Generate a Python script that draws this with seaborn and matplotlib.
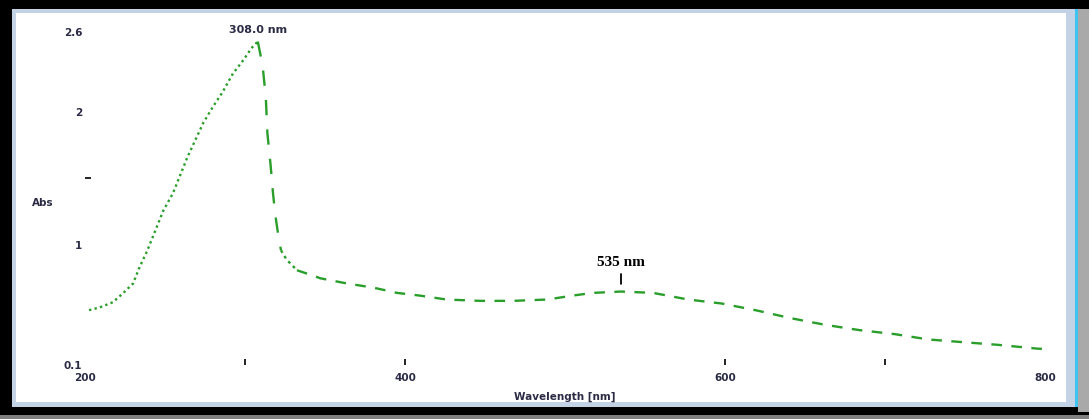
import numpy as np
import pandas as pd
import seaborn as sns
import matplotlib
matplotlib.use("Agg")
import matplotlib.pyplot as plt
from matplotlib.patches import Rectangle
from matplotlib.ticker import FixedLocator

# UV-Vis absorbance spectrum
wavelength = [202.5, 209, 217.5, 224, 230, 234, 239, 245, 249, 255, 259, 264, 269, 274,
              280, 286, 292.5, 299, 304, 308, 311, 313, 314, 316, 317.5, 319, 320.6,
              322.5, 326, 332.5, 342.5, 347, 364, 380, 395, 409, 426, 447, 467.5, 489,
              505, 517.5, 535, 555, 577, 598, 619, 641, 662.5, 684, 706, 727, 748, 770,
              796, 801]
absorbance = [0.51, 0.53, 0.57, 0.64, 0.71, 0.83, 0.96, 1.14, 1.26, 1.39, 1.51, 1.66, 1.79,
              1.92, 2.04, 2.15, 2.29, 2.39, 2.48, 2.53, 2.35, 2.11, 1.84, 1.60, 1.39, 1.22,
              1.09, 0.96, 0.89, 0.81, 0.77, 0.75, 0.71, 0.68, 0.64, 0.62, 0.59, 0.58, 0.58,
              0.59, 0.62, 0.64, 0.65, 0.64, 0.59, 0.56, 0.51, 0.45, 0.40, 0.36, 0.33, 0.29,
              0.27, 0.25, 0.22, 0.22]

peak_labels = ["308.0 nm", "535 nm"]
peak_wavelengths = [308, 535]

x_ticks = [200, 400, 600, 800]
x_minor = [300, 400, 600, 700]
y_ticks = [0.1, 1, 2, 2.6]
y_tick_labels = ["0.1", "1", "2", "2.6"]

# stroke segments (index ranges into the arrays above)
segments = [("rise", 0, 19), ("fall", 19, 27), ("knee", 27, 29), ("tail", 29, len(wavelength) - 1)]
stroke_dashes = {"rise": (1.0, 1.4), "fall": (6.5, 6.0), "knee": (1.2, 1.6), "tail": (4.5, 4.0)}

rows = []
for name, i0, i1 in segments:
    for i in range(i0, i1 + 1):
        rows.append({"wavelength": wavelength[i], "absorbance": absorbance[i], "stroke": name})
df = pd.DataFrame(rows)

sns.set_theme(style="white")
plt.rcParams["font.family"] = ["DejaVu Sans"]

W, H = 1089, 419
fig = plt.figure(figsize=(W / 100, H / 100), dpi=100, facecolor="black")


def frame_rect(x0, y0, x1, y1, color, z):
    fig.add_artist(Rectangle((x0 / W, 1 - y1 / H), (x1 - x0) / W, (y1 - y0) / H,
                             transform=fig.transFigure, facecolor=color,
                             edgecolor="none", zorder=z))


# window chrome around the plot panel
frame_rect(1078, 9, 1089, 412, "#a9a9a9", -20)
frame_rect(0, 415, 1089, 419, "#808080", -20)
frame_rect(12, 9, 1078, 407, "#c3d3e5", -19)
frame_rect(1075, 9, 1078, 407, "#3ec3f2", -18)
frame_rect(16, 13, 1066, 402, "white", -17)

ax_left, ax_right = 85, 1045
ax_top, ax_bottom = 32.2, 364.7
ax = fig.add_axes([ax_left / W, 1 - ax_bottom / H, (ax_right - ax_left) / W,
                   (ax_bottom - ax_top) / H])
ax.set_facecolor("none")

green = "#2a9e2a"
sns.lineplot(data=df, x="wavelength", y="absorbance", style="stroke",
             dashes=stroke_dashes, color=green, linewidth=1.7, estimator=None,
             legend=False, ax=ax)

ax.set_xlim(200, 800)
ax.set_ylim(0.1, 2.6)
for s in ax.spines.values():
    s.set_visible(False)

txt_color = "#2b2b45"
ax.set_xticks(x_ticks)
ax.set_xticklabels([str(t) for t in x_ticks])
ax.set_yticks(y_ticks)
ax.set_yticklabels(y_tick_labels)
ax.xaxis.remove_overlapping_locs = False
ax.xaxis.set_minor_locator(FixedLocator(x_minor))
ax.yaxis.set_minor_locator(FixedLocator([1.5]))
ax.tick_params(axis="both", which="both", bottom=True, left=True)
ax.tick_params(axis="both", which="major", length=0, labelsize=7.5, labelcolor=txt_color)
ax.tick_params(axis="x", which="major", pad=6)
ax.tick_params(axis="y", which="major", pad=2)
ax.tick_params(axis="both", which="minor", direction="in", length=4, width=1.4,
               color="#222222")
for lab in ax.get_xticklabels() + ax.get_yticklabels():
    lab.set_fontweight("bold")

ax.set_xlabel("Wavelength [nm]", fontsize=7.5, fontweight="bold", color=txt_color)
ax.xaxis.set_label_coords(0.5, -0.082)
ax.set_ylabel("Abs", fontsize=7.5, fontweight="bold", color=txt_color, rotation=0,
              ha="center", va="center")
ax.yaxis.set_label_coords(-0.044, 0.486)
ax.grid(False)

# peak annotations
wl = np.array(wavelength)
ab = np.array(absorbance)
p0 = ab[np.argmin(np.abs(wl - peak_wavelengths[0]))]
ax.annotate(peak_labels[0], xy=(peak_wavelengths[0], p0), xytext=(0, 5),
            textcoords="offset points", ha="center", va="bottom", fontsize=8,
            fontweight="bold", color=txt_color, annotation_clip=False)
p1 = ab[np.argmin(np.abs(wl - peak_wavelengths[1]))]
ax.annotate(peak_labels[1], xy=(peak_wavelengths[1], p1), xytext=(0, 16),
            textcoords="offset points", ha="center", va="bottom", fontsize=11,
            fontweight="bold", family="Liberation Serif", color="black",
            arrowprops=dict(arrowstyle="-", color="black", lw=1.3, shrinkA=1, shrinkB=5.5))

fig.savefig("out.png", dpi=100, facecolor=fig.get_facecolor())
